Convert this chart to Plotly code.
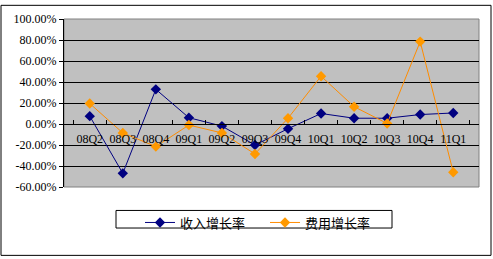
import plotly.graph_objects as go

quarters = ["08Q2", "08Q3", "08Q4", "09Q1", "09Q2", "09Q3", "09Q4", "10Q1", "10Q2", "10Q3", "10Q4", "11Q1"]
revenue_growth = [7.5, -47.0, 33.0, 6.0, -2.0, -20.0, -4.5, 10.0, 5.5, 5.5, 9.0, 10.5]
cost_growth = [19.5, -8.5, -21.5, -1.0, -8.5, -28.5, 5.5, 45.5, 16.5, 0.5, 78.5, -46.0]
y_ticks = [-60, -40, -20, 0, 20, 40, 60, 80, 100]
y_tick_text = [f"{v:.2f}%" for v in y_ticks]

font = "Liberation Serif, serif"

fig = go.Figure()
fig.add_trace(go.Scatter(
    x=quarters, y=revenue_growth, name="收入增长率", mode="lines+markers",
    line=dict(color="#000080", width=1),
    marker=dict(symbol="diamond", size=8, color="#000080"),
))
fig.add_trace(go.Scatter(
    x=quarters, y=cost_growth, name="费用增长率", mode="lines+markers",
    line=dict(color="#FF8C00", width=1),
    marker=dict(symbol="diamond", size=8, color="#FF9900"),
))

L, R, T, B = 64, 14, 15, 72
W, H = 493, 259
pw, ph = W - L - R, H - T - B

def px(x):
    return (x - L) / pw

def py(y):
    return (H - B - y) / ph

fig.update_layout(
    width=W, height=H,
    margin=dict(l=L, r=R, t=T, b=B),
    paper_bgcolor="white",
    plot_bgcolor="#C0C0C0",
    font=dict(family=font, size=12, color="black"),
    showlegend=True,
    legend=dict(
        orientation="h", x=px(140), y=py(208), xanchor="left", yanchor="top",
        bgcolor="rgba(0,0,0,0)", borderwidth=0,
        font=dict(family="Noto Sans CJK SC", size=13),
        entrywidth=80, entrywidthmode="pixels",
    ),
    xaxis=dict(
        type="category", tickson="boundaries", ticks="inside", ticklen=4,
        tickcolor="black", showline=True, linecolor="black", linewidth=1,
        showgrid=False, anchor="free", position=60/160, tickangle=0,
        ticklabelstandoff=4,
        tickfont=dict(family=font, size=12),
    ),
    yaxis=dict(
        range=[-60, 100], tickvals=y_ticks, ticktext=y_tick_text,
        showgrid=True, gridcolor="black", gridwidth=1,
        showline=True, linecolor="black", linewidth=1,
        ticks="outside", ticklen=4, tickcolor="black",
        zeroline=False, tickfont=dict(family=font, size=12),
    ),
    shapes=[
        dict(type="rect", xref="paper", yref="paper", x0=px(116), x1=px(392),
             y0=py(211), y1=py(229), line=dict(color="black", width=1),
             fillcolor="rgba(0,0,0,0)", layer="above"),
        dict(type="rect", xref="paper", yref="paper", x0=px(1), x1=px(491),
             y0=py(1), y1=py(257), line=dict(color="black", width=1),
             fillcolor="rgba(0,0,0,0)", layer="above"),
        dict(type="rect", xref="paper", yref="paper", x0=0, x1=1, y0=0, y1=1,
             line=dict(color="#808080", width=1), fillcolor="rgba(0,0,0,0)",
             layer="below"),
    ],
)

fig.write_html("out.html")
